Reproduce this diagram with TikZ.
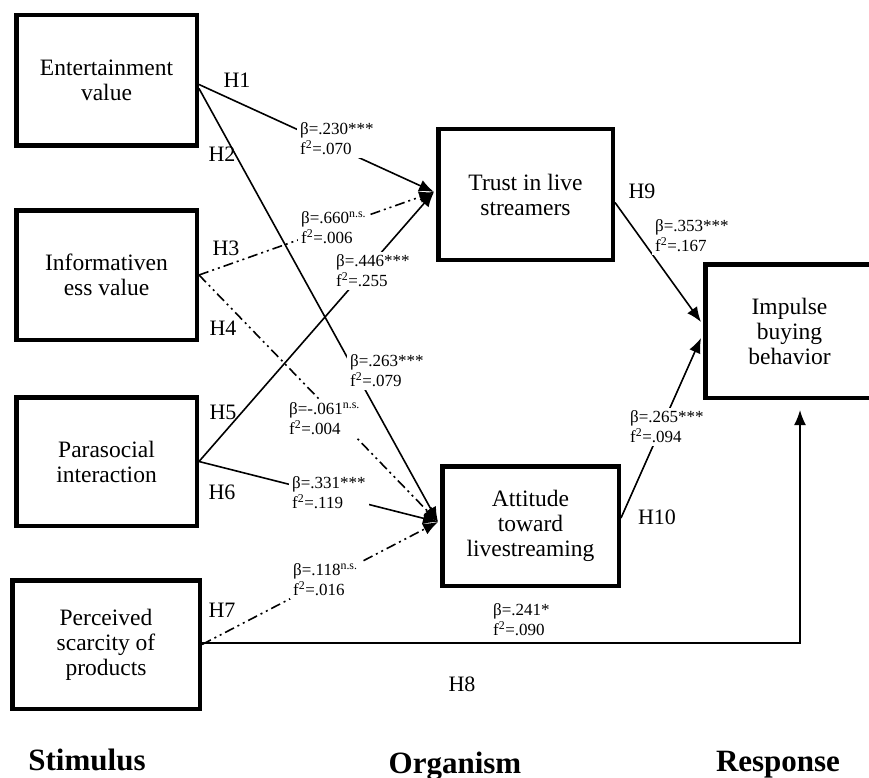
\documentclass[tikz,border=0pt]{standalone}
\usepackage{fontspec}
\setmainfont{Liberation Serif}
\usetikzlibrary{arrows.meta}

\begin{document}
\begin{tikzpicture}[x=1pt, y=-1pt,
		box/.style={draw, line width=4.5pt, align=center, inner sep=0pt, font=\fontsize{23.5}{25}\selectfont},
		link/.style={line width=1.6pt, -{Latex[length=15pt, width=12pt]}},
		ns/.style={dash pattern=on 10pt off 4pt on 2pt off 4pt on 2pt off 4pt},
		coef/.style={fill=white, inner sep=3pt, align=left, anchor=west, font=\fontsize{17}{20}\selectfont},
		hyp/.style={font=\fontsize{22}{24}\selectfont},
		part/.style={anchor=base, font=\fontsize{31}{31}\selectfont\bfseries}]
		\useasboundingbox (0, 0) rectangle (869, 778);
		
		% constructs
		\node[box, minimum width=180.5pt, minimum height=130.5pt] (ent) at (106.5, 80.5) {Entertainment\\value};
		\node[box, minimum width=180.5pt, minimum height=129.5pt] (info) at (106.5, 275) {Informativen\\ess value};
		\node[box, minimum width=180.5pt, minimum height=128.5pt] (para) at (106.5, 461.5) {Parasocial\\interaction};
		\node[box, minimum width=187.5pt, minimum height=128.5pt] (perc) at (106, 644.5) {Perceived\\scarcity of\\products};
		\node[box, minimum width=174.5pt, minimum height=130.5pt] (trust) at (525.5, 194.5) {Trust in live\\streamers};
		\node[box, minimum width=176.5pt, minimum height=119.5pt] (att) at (530.5, 526) {Attitude\\toward\\livestreaming};
		\node[box, minimum width=168.5pt, minimum height=133.5pt] (imp) at (789.5, 331) {Impulse\\buying\\behavior};
		
		\coordinate (tin) at (434, 192);
		\coordinate (ain) at (438, 522);
		\coordinate (iin9) at (701, 322);
		\coordinate (iin10) at (701, 338);
		\coordinate (iin8) at (800, 410);
		
		% paths
		\draw[link] ([yshift=-4pt]ent.east) -- (tin);
		\draw[link] ([yshift=-8pt]ent.east) -- (ain);
		\draw[link, ns] (info.east) -- (tin);
		\draw[link, ns] (info.east) -- (ain);
		\draw[link] (para.east) -- (tin);
		\draw[link] (para.east) -- (ain);
		\draw[link, ns] (perc.east) -- (ain);
		\draw[link] ([yshift=1.5pt]perc.east) -| (iin8);
		\draw[link] ([yshift=-8pt]trust.east) -- (iin9);
		\draw[link] ([yshift=8pt]att.east) -- (iin10);
		
		% coefficients
		\node[coef] (c1) at (297, 139) {β=.230***\\f\textsuperscript{2}=.070};
		\node[coef] (c3) at (298, 228) {β=.660\textsuperscript{n.s.}\\f\textsuperscript{2}=.006};
		\node[coef] (c5) at (333, 271) {β=.446***\\f\textsuperscript{2}=.255};
		\node[coef] (c2) at (347, 371) {β=.263***\\f\textsuperscript{2}=.079};
		\node[coef] (c4) at (286, 419) {β=-.061\textsuperscript{n.s.}\\f\textsuperscript{2}=.004};
		\node[coef] (c6) at (289, 493) {β=.331***\\f\textsuperscript{2}=.119};
		\node[coef] (c7) at (290, 580) {β=.118\textsuperscript{n.s.}\\f\textsuperscript{2}=.016};
		\node[coef] (c8) at (490, 620) {β=.241*\\f\textsuperscript{2}=.090};
		\node[coef] (c9) at (652, 236) {β=.353***\\f\textsuperscript{2}=.167};
		\node[coef] (c10) at (627, 427) {β=.265***\\f\textsuperscript{2}=.094};
		
		% hypotheses
		\node[hyp] (h1) at (237, 80) {H1};
		\node[hyp] (h2) at (222, 154) {H2};
		\node[hyp] (h3) at (226, 248) {H3};
		\node[hyp] (h4) at (223, 328) {H4};
		\node[hyp] (h5) at (223, 412) {H5};
		\node[hyp] (h6) at (222, 492) {H6};
		\node[hyp] (h7) at (222, 610) {H7};
		\node[hyp] (h8) at (462, 684) {H8};
		\node[hyp] (h9) at (642, 191) {H9};
		\node[hyp] (h10) at (657, 517) {H10};
		
		\node[part] (sti) at (87, 770) {Stimulus};
		\node[part] (org) at (455, 773) {Organism};
		\node[part] (res) at (778, 771) {Response};
	\end{tikzpicture}
\end{document}
